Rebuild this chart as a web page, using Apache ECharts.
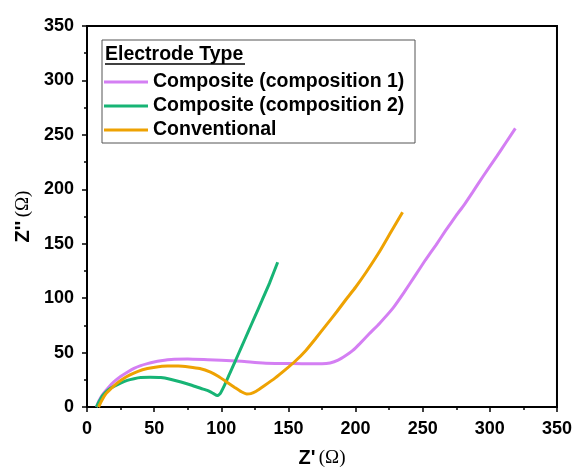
<!DOCTYPE html>
<html>
<head>
<meta charset="utf-8">
<script src="https://cdn.jsdelivr.net/npm/echarts@6/dist/echarts.min.js"></script>
<style>
html,body{margin:0;padding:0;background:#fff;}
#chart{width:575px;height:476px;}
</style>
</head>
<body>
<div id="chart"></div>
<script>
var legendTitle = 'Electrode Type';
var seriesNames = ['Composite (composition 1)', 'Composite (composition 2)', 'Conventional'];
var seriesColors = ['#D47FF3', '#17B475', '#EEA202'];
var xTicks = [0, 50, 100, 150, 200, 250, 300, 350];
var yTicks = [0, 50, 100, 150, 200, 250, 300, 350];

var composite1 = [[7,0],[9,6],[12,12],[16,18],[20,23],[25,28],[30,32],[35,35.5],[40,38],[45,39.8],[50,41.3],[55,42.5],[60,43.4],[65,43.9],[75,44],[90,43.4],[100,43],[115,42],[131,40.5],[145,40],[160,39.8],[175,39.8],[181,40.5],[187,43],[193,47.5],[198,52],[203,58],[210,67],[218,77],[228,91],[236,105],[244,120],[252,135],[260,149],[267,162],[275,176],[281,186],[287,197],[295,212],[305,230],[312,243],[319,256]];
var composite2 = [[7,0],[9,5],[12,11],[16,16],[20,19],[25,22],[30,24.5],[35,26],[40,27],[47,27.3],[55,27],[62,25.5],[70,23],[78,20],[85,17],[90,15],[94,12.5],[97,10.5],[99,12],[102,19],[106,30],[110,41],[115,55],[120,69],[125,83],[130,97],[136,114],[142,133]];
var conventional = [[8.6,0],[11,6],[14,12],[18,17],[22,21.5],[27,26],[32,29.5],[38,32.8],[45,35.3],[52,36.8],[60,37.6],[68,37.7],[76,36.8],[84,35.3],[92,32],[98,28],[104,23],[110,18],[115,14],[119,12],[122,12.3],[126,14.5],[132,19.5],[140,26.5],[148,34.5],[155,42],[163,52],[170,62.5],[178,75],[186,87.5],[193,99],[200,110],[208,124],[218,143],[226,160],[235,179]];

var seriesData = [composite1, composite2, conventional];

var chart = echarts.init(document.getElementById('chart'), null, {renderer: 'canvas'});
var font = '"Liberation Sans", Arial, sans-serif';

var option = {
  animation: false,
  backgroundColor: '#fff',
  grid: {left: 87, right: 17, top: 26, bottom: 69, show: true, borderColor: '#000', borderWidth: 2, backgroundColor: 'transparent'},
  graphic: [
    {type: 'rect', shape: {x: 102, y: 40, width: 313, height: 103}, style: {fill: '#fff', stroke: '#555', lineWidth: 1}, z: 5},
    {type: 'text', left: 105, top: 45, style: {text: legendTitle, font: 'bold 19.5px ' + font, fill: '#000'}, z: 6},
    {type: 'line', shape: {x1: 105, y1: 64, x2: 245, y2: 64}, style: {stroke: '#000', lineWidth: 1.5}, z: 6}
  ],
  legend: {
    orient: 'vertical', left: 104, top: 72, padding: 0, itemWidth: 44, itemHeight: 3, itemGap: 4,
    icon: 'rect', z: 7,
    textStyle: {fontFamily: font, fontWeight: 'bold', fontSize: 19.5, color: '#000'},
    data: seriesNames
  },
  xAxis: {
    type: 'value', min: 0, max: 350, interval: 50,
    name: '{b|Z\'} {o|(Ω)}', nameLocation: 'middle', nameGap: 41,
    nameTextStyle: {rich: {b: {fontFamily: font, fontWeight: 'bold', fontSize: 20, color: '#000'}, o: {fontFamily: '"Liberation Serif", serif', fontSize: 19, color: '#000'}}},
    axisLine: {lineStyle: {color: '#000', width: 2}},
    axisTick: {show: true, length: 5, lineStyle: {color: '#000', width: 1.5}},
    minorTick: {show: true, splitNumber: 2, length: 3, lineStyle: {color: '#000', width: 1.5}},
    splitLine: {show: false},
    axisLabel: {margin: 13, fontFamily: font, fontWeight: 'bold', fontSize: 18, color: '#000',
      formatter: function (v) { return xTicks.indexOf(v) >= 0 ? String(v) : ''; }}
  },
  yAxis: {
    type: 'value', min: 0, max: 350, interval: 50,
    name: '{b|Z\'\'} {o|(Ω)}', nameLocation: 'middle', nameGap: 54, nameRotate: 90,
    nameTextStyle: {rich: {b: {fontFamily: font, fontWeight: 'bold', fontSize: 20, color: '#000'}, o: {fontFamily: '"Liberation Serif", serif', fontSize: 19, color: '#000'}}},
    axisLine: {lineStyle: {color: '#000', width: 2}},
    axisTick: {show: true, length: 5, lineStyle: {color: '#000', width: 1.5}},
    minorTick: {show: true, splitNumber: 2, length: 3, lineStyle: {color: '#000', width: 1.5}},
    splitLine: {show: false},
    axisLabel: {margin: 13, fontFamily: font, fontWeight: 'bold', fontSize: 18, color: '#000',
      formatter: function (v) { return yTicks.indexOf(v) >= 0 ? String(v) : ''; }}
  },
  series: seriesNames.map(function (n, i) {
    return {
      name: n, type: 'line', data: seriesData[i], showSymbol: false, smooth: 0.15,
      lineStyle: {color: seriesColors[i], width: 3}, itemStyle: {color: seriesColors[i]}, z: 3
    };
  })
};
chart.setOption(option);
</script>
</body>
</html>
